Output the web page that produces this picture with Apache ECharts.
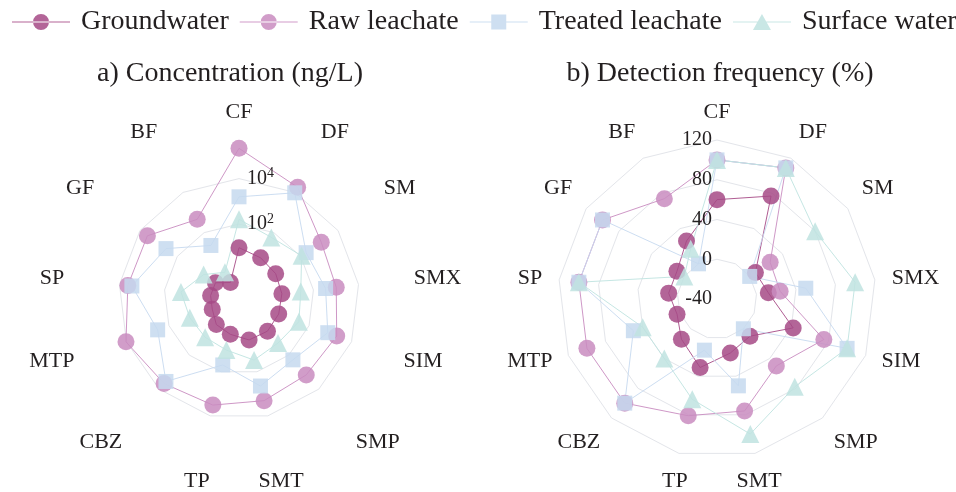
<!DOCTYPE html>
<html><head><meta charset="utf-8">
<script src="https://cdn.jsdelivr.net/npm/echarts@6/dist/echarts.min.js"></script>
<style>html,body{margin:0;padding:0;background:#fff}#c{width:956px;height:492px}</style>
</head><body><div id="c"></div>
<script>
// Categories in the clockwise order of the reference, starting at the top
const categories = ['CF','DF','SM','SMX','SIM','SMP','SMT','TP','CBZ','MTP','SP','GF','BF'];
const seriesNames = ['Groundwater','Raw leachate','Treated leachate','Surface water'];

// a) Concentration (ng/L)
const concGroundwater = [9.1, 5.6, 4.6, 4.0, 3.7, 3.9, 3.6, 2.0, 1.6, 0.91, 0.91, 0.91, 0.33];
const concRaw         = [216000, 18000, 1260, 1030, 2000, 1460, 2040, 3240, 4730, 10500, 4270, 3980, 457];
const concTreated     = [1580, 9550, 195, 347, 759, 190, 442, 49, 3550, 339, 2820, 403, 23];
const concSurface     = [162, 58, 112, 27.5, 33, 19.5, 29.5, 10.4, 8.9, 10.4, 18.8, 3.9, 1.07];

// b) Detection frequency (%)
const freqGroundwater = [60, 77, 7, 12, 42, 10, 16, 31, 14, 3, 9, 9, 26];
const freqRaw         = [100, 109, 25, 24, 75, 50, 76, 81, 100, 100, 100, 100, 74];
const freqTreated     = [100, 109, 0, 50, 100, 0, 50, 13, 100, 50, 100, 100, 0];
const freqSurface     = [100, 109, 80, 100, 100, 78, 100, 64, 40, 40, 100, 0, 17];

// tick labels
const concTickExponents = [2, 4];          // 10^2, 10^4
const freqTicks = [-40, 0, 40, 80, 120];

// ---- layout / style ----
const FONT = 'Liberation Serif';
const TXT = '#231f20';
const GRID = '#e3e5ea';
const colors = ['#a64a86', '#c98cc0', '#c6d9ef', '#bfe3e0'];
const symbols = ['circle', 'circle', 'rect', 'triangle'];
const sizes = [17, 17, 15, 18];
const NAME_SIZE = 22;

const LOG_MIN = -1.3, LOG_MAX = 5.7, LOG_SPLITS = 70;
const FREQ_MIN = freqTicks[0], FREQ_MAX = freqTicks[freqTicks.length - 1];
const CENTERS = [[239, 299], [717, 299]];
const RADIUS = 159;

// ECharts places radar indicators counter-clockwise; reorder to get clockwise
const ORDER = [0].concat(categories.map((_, i) => i).slice(1).reverse());
const reorder = arr => ORDER.map(i => arr[i]);

// name anchoring like the original: centred near top/bottom, start/end anchored on the sides
const nameStyleOf = {};
categories.forEach((name, k) => {
  const th = k * 2 * Math.PI / categories.length;
  const s = Math.sin(th), c = Math.cos(th);
  nameStyleOf[name] = {
    align: Math.abs(s) < 0.35 ? 'center' : (s > 0 ? 'left' : 'right'),
    verticalAlign: Math.abs(c) < 0.45 ? 'middle' : (c > 0 ? 'bottom' : 'top')
  };
});

const logStep = (LOG_MAX - LOG_MIN) / LOG_SPLITS;
const concRingColors = [];
for (let k = 0; k <= LOG_SPLITS; k++) {
  const v = LOG_MIN + k * logStep;
  const hit = concTickExponents.some(e => Math.abs(v - e) < logStep / 2);
  concRingColors.push(hit ? GRID : 'rgba(0,0,0,0)');
}
const freqRingColors = freqTicks.map((t, i) => i === 0 ? 'rgba(0,0,0,0)' : GRID);

function indicators(min, max, withLabel) {
  return reorder(categories).map(name => {
    const o = { name, min, max, nameTextStyle: Object.assign({}, nameStyleOf[name]) };
    if (withLabel && name === categories[0]) o.axisLabel = { show: true };
    return o;
  });
}

const baseRadar = {
  radius: RADIUS,
  startAngle: 90,
  shape: 'polygon',
  nameGap: 17,
  axisName: { color: TXT, fontSize: NAME_SIZE, fontFamily: FONT },
  splitArea: { show: false },
  axisLine: { show: false },
  axisTick: { show: false }
};

const concLabel = {
  show: false, color: TXT, fontSize: 20, fontFamily: FONT, margin: -8, align: 'left',
  formatter: v => {
    const e = Math.round(v);
    if (Math.abs(v - e) < logStep / 2 && concTickExponents.includes(e)) return '10{sup|' + e + '}';
    return '';
  },
  rich: { sup: { fontSize: 14, fontFamily: FONT, color: TXT, padding: [0, 0, 10, 0] } }
};
const freqLabel = {
  show: false, color: TXT, fontSize: 20, fontFamily: FONT, margin: 5,
  formatter: v => String(Math.round(v))
};

const radars = [
  // grids + names
  Object.assign({}, baseRadar, {
    center: CENTERS[0], splitNumber: LOG_SPLITS,
    indicator: indicators(LOG_MIN, LOG_MAX, false),
    splitLine: { lineStyle: { color: concRingColors, width: 1 } },
    axisLabel: { show: false }
  }),
  Object.assign({}, baseRadar, {
    center: CENTERS[1], splitNumber: freqTicks.length - 1,
    indicator: indicators(FREQ_MIN, FREQ_MAX, false),
    splitLine: { lineStyle: { color: freqRingColors, width: 1 } },
    axisLabel: { show: false }
  }),
  // radial tick labels, drawn above the marks
  Object.assign({}, baseRadar, {
    z: 10, center: CENTERS[0], splitNumber: LOG_SPLITS,
    indicator: indicators(LOG_MIN, LOG_MAX, true),
    axisName: { show: false }, splitLine: { show: false },
    axisLabel: concLabel
  }),
  Object.assign({}, baseRadar, {
    z: 10, center: CENTERS[1], splitNumber: freqTicks.length - 1,
    indicator: indicators(FREQ_MIN, FREQ_MAX, true),
    axisName: { show: false }, splitLine: { show: false },
    axisLabel: freqLabel
  })
];

const concSets = [concGroundwater, concRaw, concTreated, concSurface];
const freqSets = [freqGroundwater, freqRaw, freqTreated, freqSurface];

const series = [];
seriesNames.forEach((name, i) => {
  series.push({
    type: 'radar', radarIndex: 0, name, symbol: symbols[i], symbolSize: sizes[i],
    lineStyle: { color: colors[i], width: 1, opacity: 0.9 },
    itemStyle: { color: colors[i], opacity: 0.85 },
    data: [{ name, value: reorder(concSets[i].map(v => Math.log10(v))) }]
  });
});
seriesNames.forEach((name, i) => {
  series.push({
    type: 'radar', radarIndex: 1, name, symbol: symbols[i], symbolSize: sizes[i],
    lineStyle: { color: colors[i], width: 1, opacity: 0.9 },
    itemStyle: { color: colors[i], opacity: 0.85 },
    data: [{ name, value: reorder(freqSets[i]) }]
  });
});

const legendIcons = [
  'path://M0,7.5h58v1h-58z M29,0a8,8 0 1,0 0.001,0z',
  'path://M0,7.5h58v1h-58z M29,0a8,8 0 1,0 0.001,0z',
  'path://M0,7.5h58v1h-58z M21.5,0.5h15v15h-15z',
  'path://M0,7.5h58v1h-58z M29,0L38,16L20,16z'
];

const chart = echarts.init(document.getElementById('c'), null, { renderer: 'canvas' });
chart.setOption({
  backgroundColor: '#fff',
  animation: false,
  title: [
    { text: 'a) Concentration (ng/L)', left: 225, textAlign: 'center', top: 55,
      textStyle: { fontSize: 28, fontWeight: 'normal', fontFamily: FONT, color: TXT } },
    { text: 'b) Detection frequency (%)', left: 715, textAlign: 'center', top: 55,
      textStyle: { fontSize: 28, fontWeight: 'normal', fontFamily: FONT, color: TXT } }
  ],
  legend: {
    top: 3, left: 7, width: 949, itemWidth: 58, itemHeight: 16, itemGap: 11,
    textStyle: { fontSize: 28, fontFamily: FONT, color: TXT, padding: [0, 0, 0, 6] },
    data: seriesNames.map((n, i) => ({ name: n, icon: legendIcons[i] }))
  },
  radar: radars,
  series
});
</script></body></html>
